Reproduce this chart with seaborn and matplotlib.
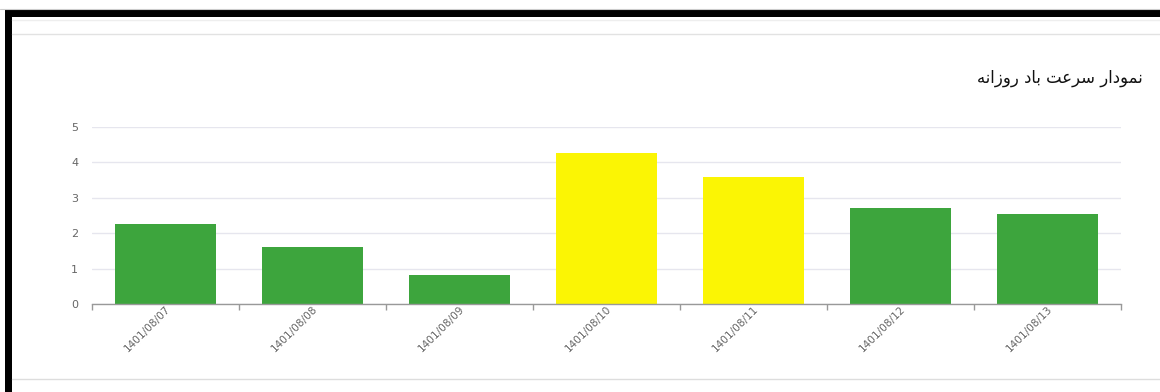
import matplotlib
matplotlib.use("Agg")
import matplotlib.pyplot as plt
from matplotlib.patches import Rectangle
from matplotlib.lines import Line2D
import seaborn as sns
import pandas as pd

# ---- data ----
dates = ["1401/08/07", "1401/08/08", "1401/08/09", "1401/08/10",
         "1401/08/11", "1401/08/12", "1401/08/13"]
wind_speed = [2.26, 1.61, 0.82, 4.27, 3.59, 2.71, 2.54]
bar_colors = ["#3da53d", "#3da53d", "#3da53d", "#fbf504",
              "#fbf504", "#3da53d", "#3da53d"]
y_ticks = [0, 1, 2, 3, 4, 5]
title_text = "نمودار سرعت باد روزانه"

# ---- minimal Arabic/Persian shaping (presentation forms) ----
FORMS = {  # iso, fin, init, med
    "ن": ("\uFEE5", "\uFEE6", "\uFEE7", "\uFEE8"),
    "م": ("\uFEE1", "\uFEE2", "\uFEE3", "\uFEE4"),
    "س": ("\uFEB1", "\uFEB2", "\uFEB3", "\uFEB4"),
    "ع": ("\uFEC9", "\uFECA", "\uFECB", "\uFECC"),
    "ت": ("\uFE95", "\uFE96", "\uFE97", "\uFE98"),
    "ب": ("\uFE8F", "\uFE90", "\uFE91", "\uFE92"),
    "ه": ("\uFEE9", "\uFEEA", "\uFEEB", "\uFEEC"),
    "و": ("\uFEED", "\uFEEE", None, None),
    "د": ("\uFEA9", "\uFEAA", None, None),
    "ا": ("\uFE8D", "\uFE8E", None, None),
    "ر": ("\uFEAD", "\uFEAE", None, None),
    "ز": ("\uFEAF", "\uFEB0", None, None),
}


def shape(text):
    out = []
    n = len(text)
    for i, ch in enumerate(text):
        if ch not in FORMS:
            out.append(ch)
            continue
        prev = text[i - 1] if i > 0 else None
        nxt = text[i + 1] if i + 1 < n else None
        join_prev = prev in FORMS and FORMS[prev][2] is not None
        join_next = nxt in FORMS and FORMS[ch][2] is not None
        f = FORMS[ch]
        if join_prev and join_next:
            out.append(f[3])
        elif join_prev:
            out.append(f[1])
        elif join_next:
            out.append(f[2])
        else:
            out.append(f[0])
    return "".join(out)[::-1]


df = pd.DataFrame({"date": dates, "speed": wind_speed})

sns.set_theme(style="white")
plt.rcParams["font.family"] = ["DejaVu Sans"]

fig = plt.figure(figsize=(11.6, 3.92), dpi=100)
ax = fig.add_axes([92 / 1160, 1 - 304 / 392, (1121 - 92) / 1160, (304 - 127) / 392])

sns.barplot(data=df, x="date", y="speed", hue="date", palette=bar_colors,
            legend=False, width=0.69, ax=ax, saturation=1, linewidth=0)

ax.set_ylim(0, 5)
ax.set_xlim(-0.5, len(dates) - 0.5)
ax.set_yticks(y_ticks)
ax.set_yticklabels([str(t) for t in y_ticks], color="#666666", fontsize=8)
ax.yaxis.grid(True, color="#e6e6ee", linewidth=1)
ax.set_axisbelow(True)
ax.set_xlabel("")
ax.set_ylabel("")
for s in ["top", "right", "left"]:
    ax.spines[s].set_visible(False)
ax.spines["bottom"].set_color("#999999")
ax.spines["bottom"].set_linewidth(1)

# category boundary ticks
ax.set_xticks([i - 0.5 for i in range(len(dates) + 1)], minor=False)
ax.set_xticklabels([""] * (len(dates) + 1))
ax.tick_params(axis="x", which="major", length=4, color="#999999", width=1, bottom=True)
ax.set_xticks(range(len(dates)), minor=True)
ax.set_xticklabels(dates, minor=True, rotation=45, ha="right", rotation_mode="anchor",
                   color="#666666", fontsize=7.6)
ax.tick_params(axis="x", which="minor", length=0, pad=0)
ax.tick_params(axis="y", length=0, pad=10)

# title
fig.text(1143 / 1160, 1 - 78 / 392, shape(title_text), ha="right", va="center",
         fontsize=11.9, color="#111111")

# page frame decorations
fig.add_artist(Line2D([0, 1], [1 - 8.5 / 392] * 2, transform=fig.transFigure,
                      color="#cccccc", linewidth=0.8))
fig.add_artist(Rectangle((5 / 1160, 1 - 17 / 392), 1, 8 / 392, transform=fig.transFigure,
                         color="black", linewidth=0))
fig.add_artist(Rectangle((5 / 1160, 0), 7 / 1160, 1 - 9 / 392, transform=fig.transFigure,
                         color="black", linewidth=0))
fig.add_artist(Line2D([12 / 1160, 1], [1 - 19.5 / 392] * 2, transform=fig.transFigure,
                      color="#eeeeee", linewidth=1))
fig.add_artist(Line2D([12 / 1160, 1], [1 - 33.5 / 392] * 2, transform=fig.transFigure,
                      color="#e2e2e2", linewidth=1))
fig.add_artist(Line2D([12 / 1160, 1], [1 - 378.5 / 392] * 2, transform=fig.transFigure,
                      color="#dddddd", linewidth=1))

fig.savefig("out.png", dpi=100, facecolor="white")
